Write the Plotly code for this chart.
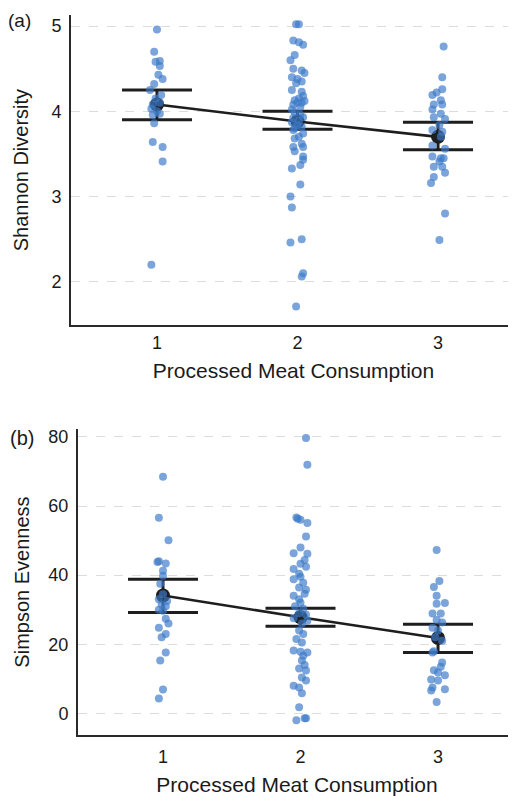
import plotly.graph_objects as go

# ---------------- data ----------------
groups = [1, 2, 3]
tick_labels = ["1", "2", "3"]

# Panel (a): Shannon diversity
shannon_g1 = [4.96, 4.70, 4.58, 4.59, 4.53, 4.43, 4.38, 4.32, 4.25, 4.19, 4.15, 4.08, 4.10,
              4.03, 4.00, 3.96, 3.97, 3.86, 3.64, 3.58, 3.41, 2.20]
shannon_g1_jit = [0.00, -0.02, -0.01, 0.02, 0.02, 0.01, 0.04, -0.02, -0.05, 0.03, -0.01, -0.03, 0.02,
                  -0.04, 0.00, -0.03, 0.02, -0.02, -0.03, 0.04, 0.04, -0.04]
shannon_g2 = [5.02, 5.02, 4.83, 4.81, 4.78, 4.66, 4.60, 4.50, 4.48, 4.45, 4.40, 4.38, 4.33, 4.35,
              4.25, 4.23, 4.18, 4.15, 4.13, 4.12, 4.10, 4.10, 4.08, 4.05, 4.02, 3.99, 3.96, 3.93,
              3.92, 3.89, 3.87, 3.84, 3.82, 3.80, 3.78, 3.74, 3.70, 3.68, 3.62, 3.58, 3.58, 3.53,
              3.47, 3.43, 3.37, 3.33, 3.14, 3.00, 2.87, 2.50, 2.46, 2.10, 2.06, 1.71]
shannon_g2_jit = [-0.01, 0.01, -0.03, 0.01, 0.04, -0.02, -0.05, -0.03, 0.03, 0.05, -0.04, 0.00, -0.01, 0.03,
                  -0.04, 0.03, 0.04, 0.01, -0.02, 0.05, 0.00, 0.03, -0.03, 0.02, -0.04, -0.02, 0.02, 0.04,
                  -0.03, 0.01, -0.04, 0.00, 0.03, -0.02, -0.03, 0.04, 0.01, -0.02, 0.03, -0.03, 0.04, -0.02,
                  0.04, 0.04, 0.02, -0.04, 0.02, -0.05, -0.04, 0.03, -0.05, 0.04, 0.03, -0.01]
shannon_g3 = [4.76, 4.40, 4.26, 4.22, 4.19, 4.13, 4.08, 4.08, 4.02, 3.97, 3.93, 3.91, 3.84, 3.78,
              3.76, 3.70, 3.60, 3.56, 3.47, 3.45, 3.45, 3.41, 3.35, 3.35, 3.28, 3.23, 3.16, 2.80, 2.49]
shannon_g3_jit = [0.04, 0.03, 0.03, -0.01, -0.04, 0.02, -0.03, 0.03, -0.04, 0.02, -0.03, 0.05, 0.01, -0.04,
                  0.03, 0.02, -0.04, 0.05, -0.04, 0.02, 0.04, 0.01, -0.03, 0.03, 0.05, -0.03, -0.05, 0.05, 0.01]
shannon_mean = [4.08, 3.88, 3.70]
shannon_upper = [4.25, 4.00, 3.87]
shannon_lower = [3.90, 3.79, 3.55]

# Panel (b): Simpson evenness
simpson_g1 = [68.5, 56.6, 50.1, 44.0, 43.8, 43.4, 41.3, 39.8, 37.5, 34.5, 33.0, 32.5, 31.5, 31.0,
              30.0, 29.7, 27.4, 26.0, 24.8, 23.0, 22.0, 17.6, 15.3, 6.9, 4.3]
simpson_g1_jit = [0.00, -0.03, 0.04, -0.03, -0.04, 0.02, 0.00, 0.00, -0.02, 0.00, -0.03, 0.03, -0.01, 0.02,
                  -0.03, 0.00, 0.02, 0.04, -0.03, 0.02, -0.01, 0.02, -0.02, 0.00, -0.03]
simpson_g2 = [79.7, 71.9, 56.7, 56.3, 56.0, 55.1, 51.2, 48.0, 46.3, 46.2, 44.4, 43.3, 42.4, 41.8,
              40.4, 39.5, 38.8, 37.8, 36.4, 35.8, 34.6, 34.0, 33.0, 32.0, 31.0, 30.3, 29.0, 28.5,
              27.5, 26.8, 26.0, 24.0, 23.0, 21.5, 20.5, 18.2, 17.8, 17.6, 16.7, 15.3, 14.0, 13.0,
              12.4, 10.4, 9.5, 8.0, 7.5, 5.8, 1.8, -1.4, -1.4, -2.0]
simpson_g2_jit = [0.04, 0.05, -0.03, -0.02, 0.00, 0.05, 0.04, 0.00, -0.05, 0.05, 0.03, 0.00, 0.04, -0.05,
                  -0.01, 0.00, -0.05, 0.02, -0.01, 0.04, 0.03, -0.05, -0.01, 0.00, -0.04, 0.02, -0.01, 0.04,
                  -0.05, 0.05, 0.01, -0.01, 0.02, -0.03, 0.01, -0.05, 0.00, 0.05, 0.02, 0.01, 0.03, -0.01,
                  0.04, 0.01, 0.04, -0.05, -0.01, 0.01, -0.01, 0.04, 0.03, -0.03]
simpson_g3 = [47.3, 38.3, 36.6, 34.0, 31.9, 31.7, 28.9, 28.9, 27.0, 26.3, 24.8, 24.0, 22.0, 21.0,
              18.0, 17.6, 14.7, 13.5, 12.5, 11.8, 11.0, 9.8, 9.5, 7.5, 7.0, 6.6, 3.3]
simpson_g3_jit = [-0.01, 0.01, -0.03, -0.01, 0.05, -0.01, -0.04, 0.02, -0.01, 0.03, -0.04, 0.00, -0.02, 0.03,
                  -0.03, -0.04, 0.03, 0.02, -0.03, 0.00, 0.05, -0.05, 0.00, -0.04, 0.05, -0.05, -0.01]
simpson_mean = [34.1, 27.8, 21.8]
simpson_upper = [38.8, 30.4, 25.8]
simpson_lower = [29.2, 25.2, 17.6]

# ---------------- style ----------------
PT_COLOR = "rgba(60,122,200,0.68)"
DARK = "#1e1e1e"
FONT = "Liberation Sans, Arial, Helvetica, sans-serif"

fig = go.Figure()


def add_panel(xa, ya, vals_list, jit_list, mean, upper, lower):
    err_plus = [u - m for u, m in zip(upper, mean)]
    err_minus = [m - l for m, l in zip(mean, lower)]
    fig.add_trace(go.Scatter(
        x=groups, y=mean, xaxis=xa, yaxis=ya, mode="lines+markers",
        line=dict(color=DARK, width=2.6),
        marker=dict(color=DARK, size=14),
        error_y=dict(type="data", symmetric=False, array=err_plus, arrayminus=err_minus,
                     color=DARK, thickness=3, width=35),
        showlegend=False, hoverinfo="skip"))
    for g, vals, jit in zip(groups, vals_list, jit_list):
        fig.add_trace(go.Scatter(
            x=[g + j for j in jit], y=vals, xaxis=xa, yaxis=ya, mode="markers",
            marker=dict(color=PT_COLOR, size=8, line=dict(width=0)),
            showlegend=False))


add_panel("x", "y", [shannon_g1, shannon_g2, shannon_g3],
          [shannon_g1_jit, shannon_g2_jit, shannon_g3_jit],
          shannon_mean, shannon_upper, shannon_lower)
add_panel("x2", "y2", [simpson_g1, simpson_g2, simpson_g3],
          [simpson_g1_jit, simpson_g2_jit, simpson_g3_jit],
          simpson_mean, simpson_upper, simpson_lower)

# page body has an 8px default margin: figure fills the rest of the window
OFF = 8
W, H = 516 - OFF, 796 - OFF
TXT = "#1a1a1a"


def px_x(p):
    return (p - OFF) / W


def px_y(p):
    return (H - (p - OFF)) / H


def x_axis(standoff):
    return dict(
        tickmode="array", tickvals=groups, ticktext=tick_labels,
        showline=True, linecolor="#2a2a2a", linewidth=2, showgrid=False, zeroline=False,
        ticks="", ticklen=0, ticklabelstandoff=standoff,
        tickfont=dict(size=18, color=TXT, family=FONT),
        title=dict(text="Processed Meat Consumption", font=dict(size=21, color=TXT, family=FONT), standoff=12),
    )


common_y = dict(
    showline=True, linecolor="#2a2a2a", linewidth=2, zeroline=False,
    showgrid=True, gridcolor="#dcdcdc", gridwidth=1.4, griddash="dash",
    ticks="", ticklen=0, ticklabelstandoff=4,
    tickfont=dict(size=18, color=TXT, family=FONT),
)

fig.update_layout(
    width=W, height=H,
    margin=dict(l=0, r=0, t=0, b=0),
    paper_bgcolor="white", plot_bgcolor="white",
    font=dict(family=FONT, color=TXT),
    xaxis=dict(domain=[px_x(71), 1], range=[0.388, 3.555], anchor="y", **x_axis(0)),
    yaxis=dict(domain=[px_y(324), px_y(13)], range=[1.49, 5.13], anchor="x",
               tickvals=[2, 3, 4, 5],
               title=dict(text="Shannon Diversity", font=dict(size=20, color=TXT, family=FONT), standoff=17),
               **common_y),
    xaxis2=dict(domain=[px_x(78), 1], range=[0.382, 3.567], anchor="y2", **x_axis(4)),
    yaxis2=dict(domain=[px_y(735), px_y(428)], range=[-6.3, 82.3], anchor="x2",
                tickvals=[0, 20, 40, 60, 80],
                title=dict(text="Simpson Evenness", font=dict(size=20, color=TXT, family=FONT), standoff=13),
                **common_y),
    annotations=[
        dict(text="(a)", x=px_x(6), y=px_y(19), xref="paper", yref="paper", xanchor="left",
             yanchor="middle", showarrow=False, font=dict(size=19, color=TXT, family=FONT)),
        dict(text="(b)", x=px_x(8), y=px_y(437), xref="paper", yref="paper", xanchor="left",
             yanchor="middle", showarrow=False, font=dict(size=20, color=TXT, family=FONT)),
    ],
)

fig.write_html("out.html")
